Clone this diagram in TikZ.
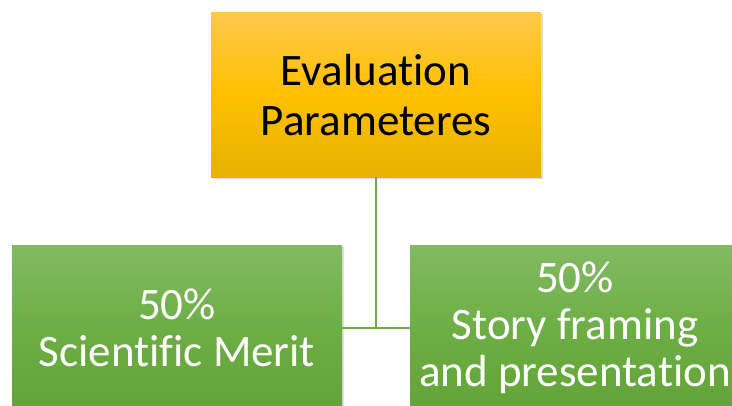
\documentclass[tikz,border=0pt]{standalone}
\usepackage{fontspec}
\setmainfont[Ligatures={NoCommon}]{Carlito}
\usetikzlibrary{shadows}
\definecolor{orTop}{HTML}{FFC84A}
\definecolor{orMid}{HTML}{FFC000}
\definecolor{orBot}{HTML}{E6B100}
\definecolor{grTop}{HTML}{82BA62}
\definecolor{grMid}{HTML}{6DAE45}
\definecolor{grBot}{HTML}{62A437}
\definecolor{lineGreen}{HTML}{70AD47}
\tikzset{
  box/.style={rectangle, minimum width=330pt, minimum height=165pt, inner sep=0pt,
    align=center,
    drop shadow={opacity=0.25, shadow xshift=1.5pt, shadow yshift=-2pt}},
  topbox/.style={box, top color=orTop, bottom color=orBot, middle color=orMid, text=black,
    font=\fontsize{45}{50}\selectfont},
  greenbox/.style={box, top color=grTop, bottom color=grBot, middle color=grMid, text=white,
    font=\fontsize{45}{47}\selectfont},
  link/.style={draw=lineGreen, line width=2pt}
}
\begin{document}
\begin{tikzpicture}[x=1pt,y=1pt]
\useasboundingbox (0,0) rectangle (732,406);
\clip (0,0) rectangle (732,406);
\fill[white] (0,0) rectangle (732,406);
\node[topbox] (top) at (376,311.2) {Evaluation\\Parameteres};
\node[greenbox] (left) at (177,78) {50\%\\Scientific Merit};
\node[greenbox] (right) at (575,78) {50\%\\Story framing\\and presentation};
\draw[link] (top.south) -- (top.south |- left.east);
\draw[link] (left.east) -- (right.west);
\end{tikzpicture}
\end{document}
